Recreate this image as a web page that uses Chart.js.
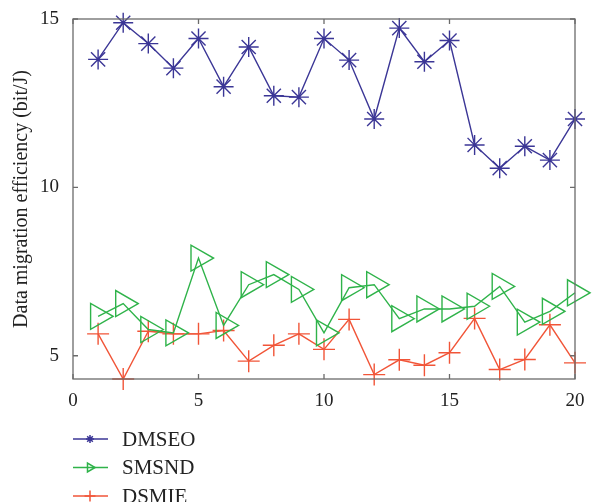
<!DOCTYPE html>
<html>
<head>
<meta charset="utf-8">
<script src="https://cdn.jsdelivr.net/npm/chart.js@4/dist/chart.umd.min.js"></script>
<style>
    html, body { margin: 0; padding: 0; background: #fff; }
    #wrap { width: 598px; height: 502px; }
</style>
</head>
<body>
<div id="wrap"><canvas id="chartEfficiency"></canvas></div>
<script>
// values
const xValues = [1, 2, 3, 4, 5, 6, 7, 8, 9, 10, 11, 12, 13, 14, 15, 16, 17, 18, 19, 20];
const dmseo = [13.80, 14.89, 14.27, 13.54, 14.42, 12.99, 14.17, 12.72, 12.68, 14.42, 13.78, 12.03, 14.73, 13.73, 14.36, 11.26, 10.57, 11.22, 10.81, 12.03];
const smsnd = [6.17, 6.55, 5.78, 5.68, 7.90, 5.90, 7.11, 7.41, 6.97, 5.68, 7.02, 7.11, 6.10, 6.39, 6.39, 6.47, 7.06, 6.00, 6.32, 6.87];
const dsmie = [5.65, 4.31, 5.73, 5.65, 5.65, 5.75, 4.84, 5.31, 5.65, 5.19, 6.08, 4.44, 4.88, 4.72, 5.09, 6.11, 4.59, 4.89, 5.92, 4.79];
const xTicks = [0, 5, 10, 15, 20];
const yTicks = [5, 10, 15];

const serif = "'Liberation Serif', 'DejaVu Serif', serif";
const axisColor = '#6b6b6b';

function toPoints(values) {
    return values.map(function (v, i) { return { x: xValues[i], y: v }; });
}

// box + inward ticks like the matlab axes
const boxAxes = {
    id: 'boxAxes',
    afterDraw: function (chart) {
        const ctx = chart.ctx;
        const a = chart.chartArea;
        const xs = chart.scales.x;
        const ys = chart.scales.y;
        ctx.save();
        ctx.strokeStyle = axisColor;
        ctx.lineWidth = 1.3;
        ctx.strokeRect(a.left, a.top, a.right - a.left, a.bottom - a.top);
        ctx.beginPath();
        xTicks.forEach(function (t) {
            const px = xs.getPixelForValue(t);
            ctx.moveTo(px, a.bottom); ctx.lineTo(px, a.bottom - 5);
            ctx.moveTo(px, a.top); ctx.lineTo(px, a.top + 5);
        });
        yTicks.forEach(function (t) {
            const py = ys.getPixelForValue(t);
            ctx.moveTo(a.left, py); ctx.lineTo(a.left + 5, py);
            ctx.moveTo(a.right, py); ctx.lineTo(a.right - 5, py);
        });
        ctx.stroke();
        ctx.restore();
    }
};

// legend stacked under the axes, at the left
const stackedLegend = {
    id: 'stackedLegend',
    afterDraw: function (chart) {
        const ctx = chart.ctx;
        const sizes = [4, 5, 5.5];
        const rows = [439, 467.5, 496];
        ctx.save();
        chart.data.datasets.forEach(function (ds, i) {
            const y = rows[i];
            ctx.strokeStyle = ds.borderColor;
            ctx.lineWidth = 1.5;
            ctx.beginPath();
            ctx.moveTo(73, y);
            ctx.lineTo(108, y);
            ctx.stroke();
            ctx.fillStyle = 'rgba(0,0,0,0)';
            Chart.helpers.drawPoint(ctx, {
                pointStyle: ds.pointStyle,
                rotation: ds.pointRotation || 0,
                radius: sizes[i],
                borderWidth: 1.5
            }, 90, y);
            ctx.fillStyle = '#222';
            ctx.font = '21px ' + serif;
            ctx.textBaseline = 'middle';
            ctx.fillText(ds.label, 122, y + 1);
        });
        ctx.restore();
    }
};

const efficiency = new Chart(
    document.getElementById('chartEfficiency'), {
        type: 'line',
        data: {
            datasets: [{
                label: 'DMSEO',
                data: toPoints(dmseo),
                borderColor: '#3b3696',
                backgroundColor: 'rgba(0,0,0,0)',
                borderWidth: 1.4,
                pointStyle: 'star',
                pointRadius: 10,
                pointBorderWidth: 1.4,
                pointBorderColor: '#3b3696',
                tension: 0,
                clip: false
            }, {
                label: 'SMSND',
                data: toPoints(smsnd),
                borderColor: '#2fb34a',
                backgroundColor: 'rgba(0,0,0,0)',
                borderWidth: 1.4,
                pointStyle: 'triangle',
                pointRotation: 90,
                pointRadius: 15,
                pointBorderWidth: 1.4,
                pointBorderColor: '#2fb34a',
                pointBackgroundColor: 'rgba(0,0,0,0)',
                tension: 0,
                clip: false
            }, {
                label: 'DSMIE',
                data: toPoints(dsmie),
                borderColor: '#f15538',
                backgroundColor: 'rgba(0,0,0,0)',
                borderWidth: 1.4,
                pointStyle: 'cross',
                pointRadius: 11,
                pointBorderWidth: 1.4,
                pointBorderColor: '#f15538',
                tension: 0,
                clip: false
            }]
        },
        options: {
            responsive: true,
            maintainAspectRatio: false,
            animation: false,
            events: [],
            layout: {
                padding: { top: 19, right: 23, bottom: 0, left: 0 }
            },
            plugins: {
                legend: { display: false },
                tooltip: { enabled: false }
            },
            scales: {
                x: {
                    type: 'linear',
                    min: 0,
                    max: 20,
                    grid: { display: false },
                    border: { display: false },
                    afterBuildTicks: function (scale) {
                        scale.ticks = xTicks.map(function (v) { return { value: v }; });
                    },
                    afterFit: function (scale) { scale.height = 123; },
                    ticks: {
                        padding: 3,
                        maxRotation: 0,
                        color: '#222',
                        font: { family: serif, size: 19 }
                    }
                },
                y: {
                    type: 'linear',
                    min: 4.31,
                    max: 15,
                    grid: { display: false },
                    border: { display: false },
                    afterBuildTicks: function (scale) {
                        scale.ticks = yTicks.map(function (v) { return { value: v }; });
                    },
                    afterFit: function (scale) { scale.width = 73; },
                    title: {
                        display: true,
                        text: 'Data migration efficiency (bit/J)',
                        color: '#222',
                        font: { family: serif, size: 20 },
                        padding: { top: 10, bottom: 0 }
                    },
                    ticks: {
                        padding: 6,
                        color: '#222',
                        font: { family: serif, size: 19 }
                    }
                }
            }
        },
        plugins: [boxAxes, stackedLegend]
    }
);
</script>
</body>
</html>
